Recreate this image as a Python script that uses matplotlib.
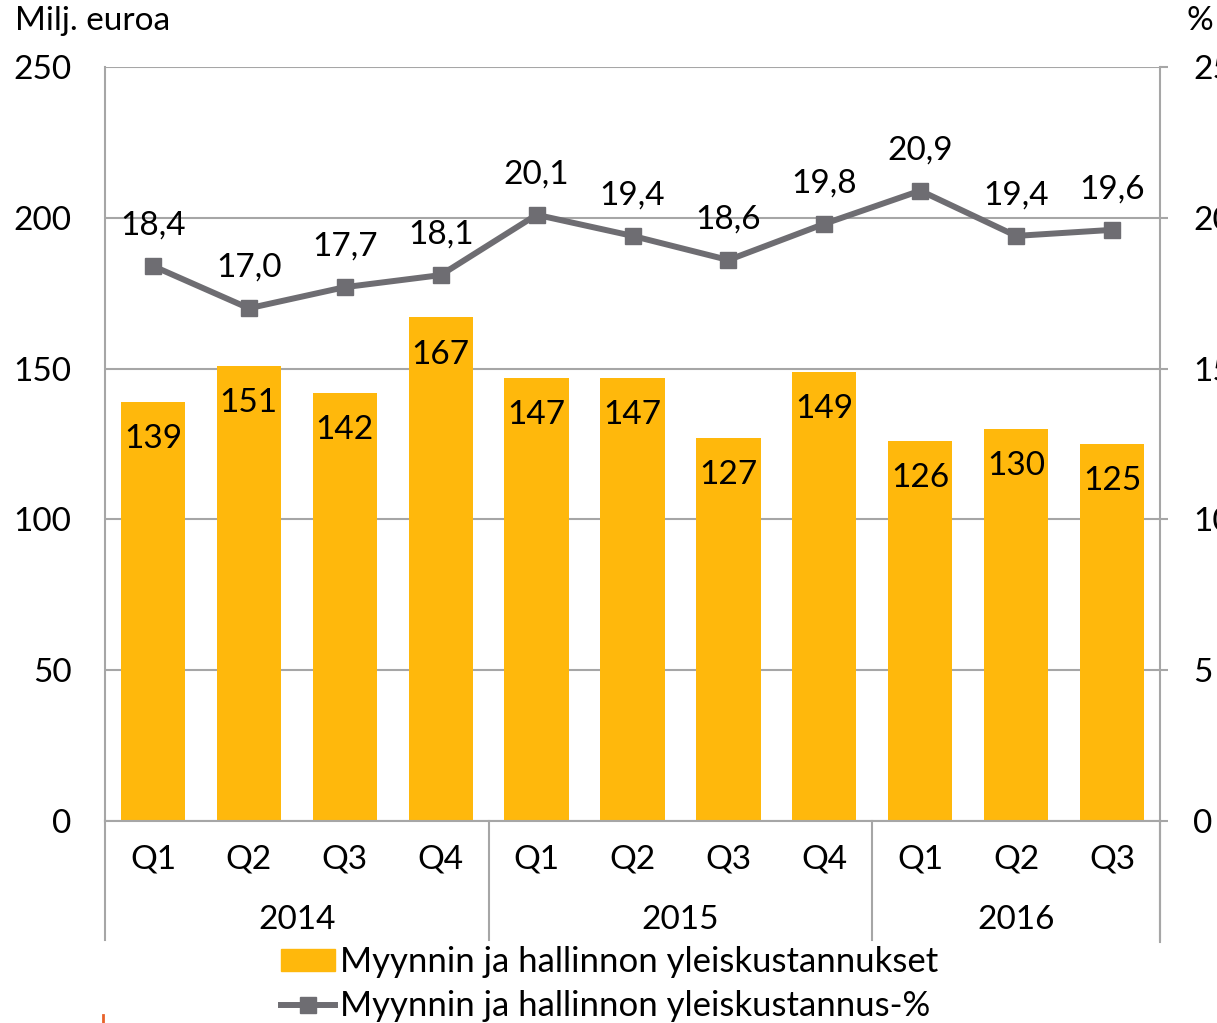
import matplotlib.pyplot as plt
from matplotlib.lines import Line2D
from matplotlib.patches import Patch

plt.rcParams['font.family'] = ['Lato', 'DejaVu Sans']

quarters = ["Q1", "Q2", "Q3", "Q4", "Q1", "Q2", "Q3", "Q4", "Q1", "Q2", "Q3"]
years = ["2014", "2015", "2016"]
year_counts = [4, 4, 3]
costs = [139, 151, 142, 167, 147, 147, 127, 149, 126, 130, 125]
cost_pct = [18.4, 17.0, 17.7, 18.1, 20.1, 19.4, 18.6, 19.8, 20.9, 19.4, 19.6]

bar_color = "#FFB80C"
line_color = "#6E6D72"
axis_color = "#A6A6A6"
fs = 24

fig = plt.figure(figsize=(12.17, 10.23), dpi=100)
ax = fig.add_axes([105 / 1217, 1 - 821 / 1023, 1055 / 1217, 754 / 1023])
x = list(range(len(quarters)))

bars = ax.bar(x, costs, width=0.67, color=bar_color, zorder=2)
for xi, v in zip(x, costs):
    ax.annotate(str(v), (xi, v), xytext=(0, -27), textcoords="offset points",
                ha="center", va="center", fontsize=fs, zorder=3)

ax.set_xlim(-0.5, len(quarters) - 0.5)
ax.set_ylim(0, 250)
ax.set_yticks(range(0, 251, 50))
ax.yaxis.grid(True, color=axis_color, linewidth=1.5)
ax.set_axisbelow(True)
ax.set_xticks(x, quarters)
ax.tick_params(axis="x", length=0, pad=17, labelsize=fs)
ax.tick_params(axis="y", length=0, pad=24, labelsize=fs)
for side in ["top", "right"]:
    ax.spines[side].set_visible(False)
for side in ["left", "bottom"]:
    ax.spines[side].set_color(axis_color)
    ax.spines[side].set_linewidth(1.5)

# year groups below the quarter labels
tr = ax.get_xaxis_transform()
depth = -119 / 754
start = 0
bounds = [-0.5]
for yr, n in zip(years, year_counts):
    ax.text(start + (n - 1) / 2, -99 / 754, yr, transform=tr, ha="center",
            va="center", fontsize=fs)
    start += n
    bounds.append(start - 0.5)
for b in bounds:
    ax.plot([b, b], [0, depth], transform=tr, color=axis_color, lw=1.5,
            clip_on=False)

ax2 = ax.twinx()
ax2.set_ylim(0, 25)
ax2.set_yticks(range(0, 26, 5))
ax2.plot(x, cost_pct, color=line_color, lw=4.3, marker="s", markersize=12,
         zorder=4)
for xi, v in zip(x, cost_pct):
    ax2.annotate(f"{v:.1f}".replace(".", ","), (xi, v), xytext=(0, 29),
                 textcoords="offset points", ha="center", va="center",
                 fontsize=fs)
ax2.tick_params(axis="y", length=6, width=1.5, color=axis_color, pad=18,
                labelsize=fs)
for side in ["top", "left", "bottom"]:
    ax2.spines[side].set_visible(False)
ax2.spines["right"].set_color(axis_color)
ax2.spines["right"].set_linewidth(1.5)
ax2.spines["right"].set_bounds(0, 25)
ax2.plot([1, 1], [0, -121 / 754], transform=ax2.transAxes, color=axis_color,
         lw=1.5, clip_on=False)

fig.text(15 / 1217, 1 - 21 / 1023, "Milj. euroa", fontsize=fs, va="center")
fig.text(1187 / 1217, 1 - 21 / 1023, "%", fontsize=fs, va="center")

handles = [Patch(color=bar_color),
           Line2D([], [], color=line_color, lw=4.3, marker="s", markersize=12)]
labels = ["Myynnin ja hallinnon yleiskustannukset",
          "Myynnin ja hallinnon yleiskustannus-%"]
fig.legend(handles, labels, loc="upper left",
           bbox_to_anchor=(281 / 1217, 1 - 946 / 1023), frameon=False,
           fontsize=25, handlelength=1.55, handleheight=0.6, handletextpad=0.15,
           labelspacing=0.35, borderpad=0, borderaxespad=0)

# small stray mark at the bottom left of the original
fig.add_artist(Line2D([103 / 1217, 103 / 1217], [0, 8 / 1023],
                      color="#E8622A", lw=2))

fig.savefig("out.png", dpi=100)
